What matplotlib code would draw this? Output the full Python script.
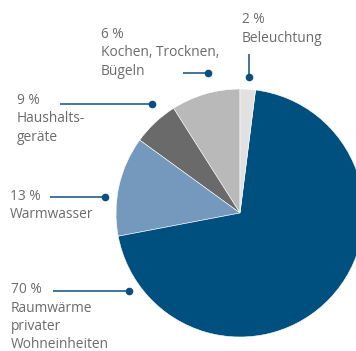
import numpy as np
import matplotlib.pyplot as plt

# shares of household energy use, in percent (counter-clockwise from 12 o'clock)
categories = ["Haushaltsgeräte", "Kochen, Trocknen, Bügeln", "Warmwasser",
              "Raumwärme privater Wohneinheiten", "Beleuchtung"]
shares = [9, 6, 13, 70, 2]
label_lines = [
    ["9 %", "Haushalts-", "geräte"],
    ["6 %", "Kochen, Trocknen,", "Bügeln"],
    ["13 %", "Warmwasser"],
    ["70 %", "Raumwärme", "privater", "Wohneinheiten"],
    ["2 %", "Beleuchtung"],
]
colors = ["#b9b9b9", "#6a6a6a", "#7499bd", "#00507f", "#e1e1e1"]

W, H = 356, 351
fig = plt.figure(figsize=(W / 100, H / 100), dpi=100)
ax = fig.add_axes([0, 0, 1, 1])

# pie in pixel units (y measured from the bottom)
cx, cy, r = 240, H - 213, 124
ax.pie(shares, colors=colors, startangle=90, counterclock=True,
       center=(cx, cy), radius=r, frame=True,
       wedgeprops=dict(edgecolor="white", linewidth=0.4))

ax.set_xlim(0, W)
ax.set_ylim(0, H)
ax.set_aspect("equal")
ax.axis("off")

# text block positions (left x, baseline y of first line, pixels from top)
text_pos = [(17, 104), (101, 38), (10, 200), (11, 293), (242, 23)]
# leader lines: (x0, y0, x1, y1) with the dot at (x1, y1)
leaders = [(60, 104, 152, 104), (183, 73, 208, 73), (50, 197, 105, 197),
           (53, 291, 129, 291), (249, 54, 249, 77)]

line_col = "#0b4f80"
txt_col = "#6b6b6b"
for lines, (tx, ty), (x0, y0, x1, y1) in zip(label_lines, text_pos, leaders):
    for i, s in enumerate(lines):
        ax.text(tx, H - (ty + i * 18.5), s, ha="left", va="baseline",
                fontsize=9.9, color=txt_col, family="Open Sans")
    ax.plot([x0, x1], [H - y0, H - y1], color=line_col, lw=1.1,
            solid_capstyle="butt")
    ax.plot(x1, H - y1, "o", color=line_col, ms=5.5, mec="none")

fig.savefig("out.png", dpi=100)
